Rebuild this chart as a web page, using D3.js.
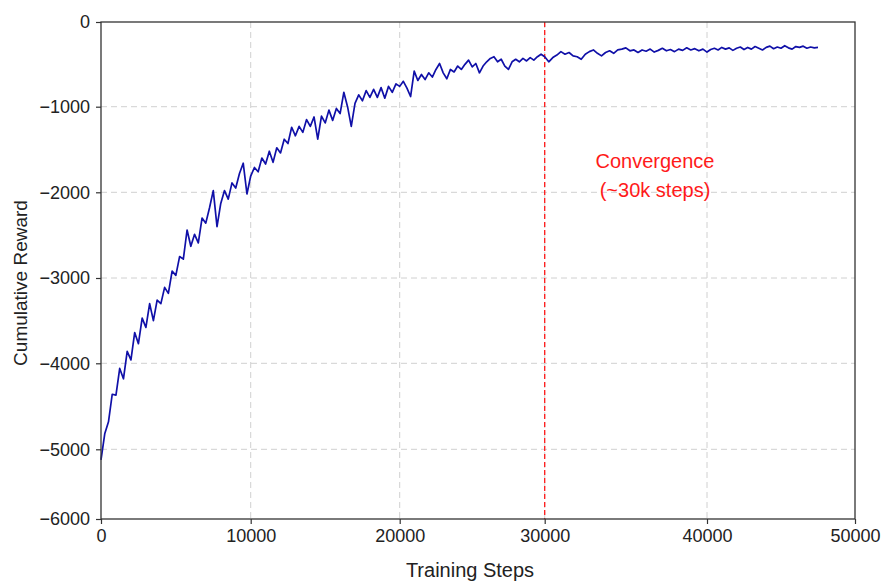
<!DOCTYPE html>
<html>
<head>
<meta charset="utf-8">
<script src="https://cdn.jsdelivr.net/npm/d3@7"></script>
<style>
  body { margin: 0; background: #fff; }
  svg text { font-family: "Liberation Sans", Arial, sans-serif; }
</style>
</head>
<body>
<svg id="chart" width="882" height="581"></svg>
<script>
var stepSize = 250;
var rewards = [
  -5150, -4820, -4680, -4360, -4370, -4060, -4180, -3860, -3960, -3640,
  -3770, -3470, -3580, -3300, -3500, -3260, -3300, -3110, -3180, -2920,
  -2970, -2750, -2780, -2440, -2630, -2490, -2590, -2300, -2360, -2180,
  -1980, -2400, -2130, -1980, -2080, -1890, -1950, -1780, -1660, -2020,
  -1810, -1710, -1760, -1600, -1670, -1520, -1650, -1480, -1540, -1380,
  -1430, -1240, -1340, -1230, -1300, -1150, -1230, -1120, -1380, -1110,
  -1190, -1040, -1160, -1020, -1080, -830, -1000, -1230, -960, -860,
  -930, -810, -890, -795, -890, -775, -900, -760, -830, -730,
  -760, -700, -780, -880, -580, -690, -620, -680, -600, -650,
  -560, -490, -600, -670, -560, -590, -520, -560, -500, -450,
  -530, -490, -600, -520, -470, -430, -410, -470, -440, -520,
  -560, -470, -440, -470, -430, -460, -420, -450, -410, -380,
  -410, -470, -420, -390, -350, -380, -360, -400, -410, -440,
  -380, -350, -330, -370, -400, -360, -340, -370, -330, -320,
  -305, -340, -330, -360, -330, -345, -320, -355, -335, -310,
  -340, -325, -350, -320, -335, -305, -330, -315, -340, -320,
  -355, -325, -310, -330, -300, -320, -305, -335, -310, -295,
  -325, -300, -320, -290, -310, -330, -300, -285, -315, -295,
  -310, -280, -305, -320, -290, -300, -285, -310, -295, -305,
  -300
];
var xTicks = [0, 10000, 20000, 30000, 40000, 50000];
var yTicks = [-6000, -5000, -4000, -3000, -2000, -1000, 0];
var convergenceStep = 30000;
var noteLines = ["Convergence", "(~30k steps)"];

var svg = d3.select("#chart");

// tick positions measured from the reference (spacing isn't perfectly even)
var x = d3.scaleLinear()
  .domain(xTicks)
  .range([101, 250.7, 399.7, 544.7, 707, 855]);
var y = d3.scaleLinear()
  .domain(yTicks)
  .range([519, 449.3, 363.3, 278, 192.3, 106.7, 22]);

var plotL = x(0), plotR = x(50000), plotT = y(0), plotB = y(-6000);

// grid
var grid = svg.append("g").attr("stroke", "#d0d0d0").attr("stroke-width", 1)
  .attr("stroke-dasharray", "6,4");
grid.selectAll("line.gx")
  .data(xTicks.slice(1, -1))
  .enter().append("line")
    .attr("x1", function(d) { return x(d); })
    .attr("x2", function(d) { return x(d); })
    .attr("y1", plotT).attr("y2", plotB);
grid.selectAll("line.gy")
  .data(yTicks.slice(1, -1))
  .enter().append("line")
    .attr("x1", plotL).attr("x2", plotR)
    .attr("y1", function(d) { return y(d); })
    .attr("y2", function(d) { return y(d); });

// convergence marker
svg.append("line")
  .attr("x1", x(convergenceStep)).attr("x2", x(convergenceStep))
  .attr("y1", plotT).attr("y2", plotB)
  .attr("stroke", "#ff1a1a")
  .attr("stroke-width", 1.3)
  .attr("stroke-dasharray", "5,3");

// reward curve
var line = d3.line()
  .x(function(d, i) { return x(i * stepSize); })
  .y(function(d) { return y(d); });
svg.append("path")
  .datum(rewards)
  .attr("fill", "none")
  .attr("stroke", "#1010a8")
  .attr("stroke-width", 1.7)
  .attr("stroke-linejoin", "round")
  .attr("d", line);

// frame
svg.append("rect")
  .attr("x", plotL).attr("y", plotT)
  .attr("width", plotR - plotL).attr("height", plotB - plotT)
  .attr("fill", "none")
  .attr("stroke", "#333")
  .attr("stroke-width", 1.3);

// axes
var xAxis = svg.append("g")
  .attr("transform", "translate(0," + plotB + ")")
  .call(d3.axisBottom(x).tickValues(xTicks).tickFormat(d3.format("d")).tickSize(5).tickPadding(5));
var yAxis = svg.append("g")
  .attr("transform", "translate(" + plotL + ",0)")
  .call(d3.axisLeft(y).tickValues(yTicks).tickFormat(function(d) { return d3.format("d")(d).replace("-", "\u2212"); }).tickSize(5).tickPadding(6));
[xAxis, yAxis].forEach(function(a) {
  a.select(".domain").remove();
  a.selectAll("line").attr("stroke", "#333").attr("stroke-width", 1.2);
  a.selectAll("text")
    .attr("fill", "#222")
    .style("font-size", "18px")
    .style("font-family", "Liberation Sans, Arial, sans-serif");
});

// labels
svg.append("text")
  .attr("x", 470).attr("y", 577)
  .attr("text-anchor", "middle")
  .attr("fill", "#222")
  .style("font-size", "20px")
  .text("Training Steps");
svg.append("text")
  .attr("transform", "translate(27,283) rotate(-90)")
  .attr("text-anchor", "middle")
  .attr("fill", "#222")
  .style("font-size", "19px")
  .text("Cumulative Reward");

svg.selectAll("text.note")
  .data(noteLines)
  .enter().append("text")
    .attr("class", "note")
    .attr("x", 655)
    .attr("y", function(d, i) { return 168 + i * 29; })
    .attr("text-anchor", "middle")
    .attr("fill", "#ff1a1a")
    .style("font-size", "20px")
    .text(function(d) { return d; });
</script>
</body>
</html>
